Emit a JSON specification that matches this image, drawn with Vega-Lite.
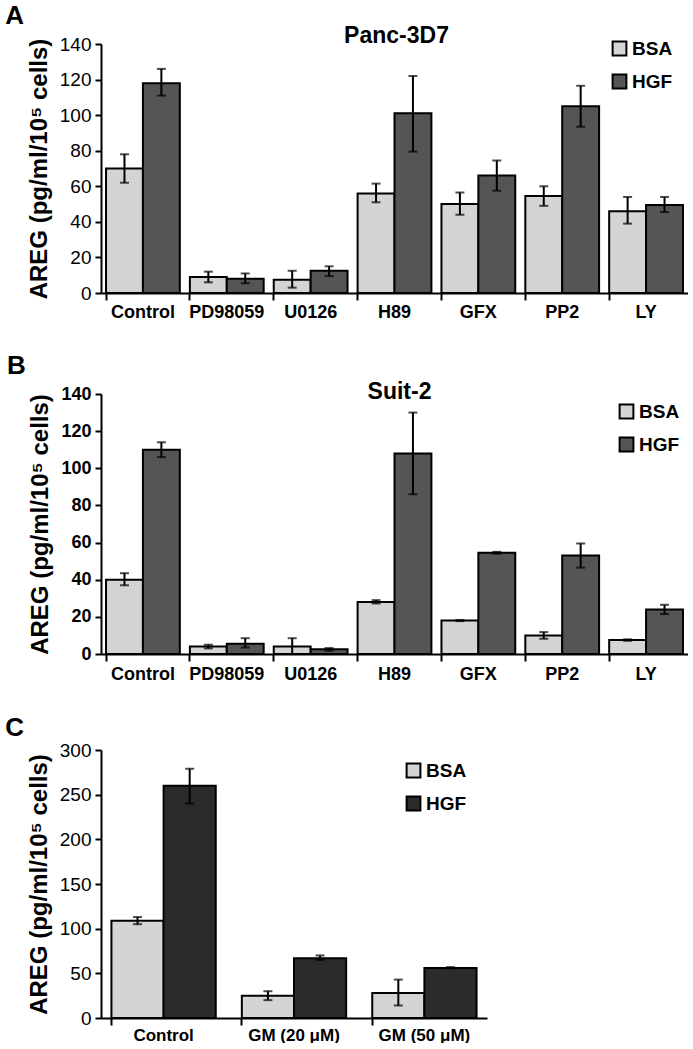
{
  "$schema": "https://vega.github.io/schema/vega-lite/v6.json",
  "padding": {"left": 5, "top": 3, "right": 0, "bottom": 0},
  "background": "white",
  "config": {
    "view": {"stroke": null},
    "font": "Liberation Sans",
    "axis": {"domainColor": "black", "tickColor": "black", "labelColor": "black", "titleColor": "black", "grid": false, "domainWidth": 2, "tickWidth": 2, "labelOverlap": false},
    "legend": {"title": null, "symbolType": "square", "symbolSize": 190, "symbolStrokeColor": "black", "symbolStrokeWidth": 2, "labelFont": "Liberation Sans", "labelFontWeight": "bold", "labelFontSize": 19, "labelColor": "black", "rowPadding": 10, "labelOffset": 3, "orient": "none"}
  },
  "datasets": {
    "A": [
      {"treatment": "Control", "group": "BSA", "value": 70, "lo": 62, "hi": 78},
      {"treatment": "Control", "group": "HGF", "value": 118, "lo": 111, "hi": 126},
      {"treatment": "PD98059", "group": "BSA", "value": 9, "lo": 6, "hi": 12},
      {"treatment": "PD98059", "group": "HGF", "value": 8, "lo": 5.5, "hi": 11},
      {"treatment": "U0126", "group": "BSA", "value": 7.5, "lo": 3, "hi": 12.5},
      {"treatment": "U0126", "group": "HGF", "value": 12.5, "lo": 9.5, "hi": 15},
      {"treatment": "H89", "group": "BSA", "value": 56, "lo": 51, "hi": 61.5},
      {"treatment": "H89", "group": "HGF", "value": 101, "lo": 79.5, "hi": 122},
      {"treatment": "GFX", "group": "BSA", "value": 50, "lo": 44, "hi": 56.5},
      {"treatment": "GFX", "group": "HGF", "value": 66, "lo": 57.5, "hi": 74.5},
      {"treatment": "PP2", "group": "BSA", "value": 54.5, "lo": 49, "hi": 60},
      {"treatment": "PP2", "group": "HGF", "value": 105, "lo": 93.5, "hi": 116.5},
      {"treatment": "LY", "group": "BSA", "value": 46, "lo": 39, "hi": 54},
      {"treatment": "LY", "group": "HGF", "value": 49.5, "lo": 45.5, "hi": 54}
    ],
    "B": [
      {"treatment": "Control", "group": "BSA", "value": 40, "lo": 37, "hi": 43.5},
      {"treatment": "Control", "group": "HGF", "value": 110, "lo": 106, "hi": 114},
      {"treatment": "PD98059", "group": "BSA", "value": 4, "lo": 3, "hi": 5},
      {"treatment": "PD98059", "group": "HGF", "value": 5.5, "lo": 3.5, "hi": 8.5},
      {"treatment": "U0126", "group": "BSA", "value": 4, "lo": 0, "hi": 8.5},
      {"treatment": "U0126", "group": "HGF", "value": 2.5, "lo": 1.8, "hi": 3.2},
      {"treatment": "H89", "group": "BSA", "value": 28, "lo": 27.2, "hi": 29},
      {"treatment": "H89", "group": "HGF", "value": 108, "lo": 86, "hi": 130},
      {"treatment": "GFX", "group": "BSA", "value": 18, "lo": 17.7, "hi": 18.3},
      {"treatment": "GFX", "group": "HGF", "value": 54.5, "lo": 54, "hi": 55},
      {"treatment": "PP2", "group": "BSA", "value": 10, "lo": 8.2, "hi": 11.8},
      {"treatment": "PP2", "group": "HGF", "value": 53, "lo": 46.5, "hi": 59.5},
      {"treatment": "LY", "group": "BSA", "value": 7.5, "lo": 7.1, "hi": 7.9},
      {"treatment": "LY", "group": "HGF", "value": 24, "lo": 21.5, "hi": 26.5}
    ],
    "C": [
      {"treatment": "Control", "group": "BSA", "value": 109, "lo": 105, "hi": 113},
      {"treatment": "Control", "group": "HGF", "value": 260, "lo": 240, "hi": 279},
      {"treatment": "GM (20 μM)", "group": "BSA", "value": 25, "lo": 20, "hi": 30},
      {"treatment": "GM (20 μM)", "group": "HGF", "value": 67, "lo": 65, "hi": 70},
      {"treatment": "GM (50 μM)", "group": "BSA", "value": 28, "lo": 14, "hi": 43},
      {"treatment": "GM (50 μM)", "group": "HGF", "value": 56, "lo": 55.5, "hi": 57}
    ]
  },
  "resolve": {"scale": {"fill": "independent", "x": "independent", "xOffset": "independent", "y": "independent"}, "legend": {"fill": "independent"}},
  "spacing": 32,
  "vconcat": [
    {
      "title": {"text": "A", "anchor": "start", "frame": "bounds", "fontSize": 26, "fontWeight": "bold", "dx": -22, "offset": -4, "color": "black"},
      "resolve": {"scale": {"fill": "independent"}, "legend": {"fill": "independent"}},
      "vconcat": [
        {
          "title": {"text": "Panc-3D7", "fontSize": 23, "fontWeight": "bold", "offset": -13, "color": "black", "dx": 2},
          "width": 587,
          "height": 249,
          "data": {"name": "A"},
          "encoding": {
            "x": {"field": "treatment", "type": "nominal", "sort": null, "title": null,
                  "scale": {"paddingInner": 0.12, "paddingOuter": 0.06},
                  "axis": {"labelAngle": 0, "labelFontSize": 18, "labelFontWeight": "bold", "bandPosition": 0, "tickSize": 7, "labelPadding": 3}},
            "xOffset": {"field": "group", "type": "nominal", "sort": ["BSA", "HGF"]}
          },
          "layer": [
            {
              "mark": {"type": "bar", "stroke": "black", "strokeWidth": 2},
              "encoding": {
                "y": {"field": "value", "type": "quantitative", "title": "AREG (pg/ml/10⁵ cells)",
                      "scale": {"domain": [0, 140], "nice": false},
                      "axis": {"values": [0, 20, 40, 60, 80, 100, 120, 140], "labelOverlap": false, "labelFontSize": 19, "titleFontSize": 24, "titleFontWeight": "bold", "tickSize": 6, "labelPadding": 4, "titlePadding": 8}},
                "fill": {"field": "group", "type": "nominal", "scale": {"domain": ["BSA", "HGF"], "range": ["#d4d4d4", "#555555"]},
                         "legend": {"legendX": 509, "legendY": -5}}
              }
            },
            {
              "mark": {"type": "rule", "color": "black", "strokeWidth": 2},
              "encoding": {"y": {"field": "lo", "type": "quantitative", "title": "AREG (pg/ml/10⁵ cells)", "scale": {"domain": [0, 140], "nice": false},
                      "axis": {"values": [0, 20, 40, 60, 80, 100, 120, 140], "labelOverlap": false, "labelFontSize": 19, "titleFontSize": 24, "titleFontWeight": "bold", "tickSize": 6, "labelPadding": 4, "titlePadding": 8}}, "y2": {"field": "hi"}}
            },
            {
              "mark": {"type": "tick", "color": "black", "thickness": 2, "size": 9, "orient": "horizontal"},
              "encoding": {"y": {"field": "lo", "type": "quantitative", "title": "AREG (pg/ml/10⁵ cells)", "scale": {"domain": [0, 140], "nice": false},
                      "axis": {"values": [0, 20, 40, 60, 80, 100, 120, 140], "labelOverlap": false, "labelFontSize": 19, "titleFontSize": 24, "titleFontWeight": "bold", "tickSize": 6, "labelPadding": 4, "titlePadding": 8}}}
            },
            {
              "mark": {"type": "tick", "color": "black", "thickness": 2, "size": 9, "orient": "horizontal"},
              "encoding": {"y": {"field": "hi", "type": "quantitative", "title": "AREG (pg/ml/10⁵ cells)", "scale": {"domain": [0, 140], "nice": false},
                      "axis": {"values": [0, 20, 40, 60, 80, 100, 120, 140], "labelOverlap": false, "labelFontSize": 19, "titleFontSize": 24, "titleFontWeight": "bold", "tickSize": 6, "labelPadding": 4, "titlePadding": 8}}}
            }
          ]
        }
      ]
    },
    {
      "title": {"text": "B", "anchor": "start", "frame": "bounds", "fontSize": 26, "fontWeight": "bold", "dx": -22, "offset": 2, "color": "black"},
      "resolve": {"scale": {"fill": "independent"}, "legend": {"fill": "independent"}},
      "vconcat": [
        {
          "title": {"text": "Suit-2", "fontSize": 23, "fontWeight": "bold", "offset": -19, "color": "black", "dx": 5},
          "width": 587,
          "height": 260,
          "data": {"name": "B"},
          "encoding": {
            "x": {"field": "treatment", "type": "nominal", "sort": null, "title": null,
                  "scale": {"paddingInner": 0.12, "paddingOuter": 0.06},
                  "axis": {"labelAngle": 0, "labelFontSize": 18, "labelFontWeight": "bold", "bandPosition": 0, "tickSize": 7, "labelPadding": 4}},
            "xOffset": {"field": "group", "type": "nominal", "sort": ["BSA", "HGF"]}
          },
          "layer": [
            {
              "mark": {"type": "bar", "stroke": "black", "strokeWidth": 2},
              "encoding": {
                "y": {"field": "value", "type": "quantitative", "title": "AREG (pg/ml/10⁵ cells)",
                      "scale": {"domain": [0, 140], "nice": false},
                      "axis": {"values": [0, 20, 40, 60, 80, 100, 120, 140], "labelOverlap": false, "labelFontSize": 18, "labelFontWeight": "bold", "titleFontSize": 24, "titleFontWeight": "bold", "tickSize": 6, "labelPadding": 4, "titlePadding": 8}},
                "fill": {"field": "group", "type": "nominal", "scale": {"domain": ["BSA", "HGF"], "range": ["#d4d4d4", "#555555"]},
                         "legend": {"legendX": 516, "legendY": 8}}
              }
            },
            {
              "mark": {"type": "rule", "color": "black", "strokeWidth": 2},
              "encoding": {"y": {"field": "lo", "type": "quantitative", "title": "AREG (pg/ml/10⁵ cells)", "scale": {"domain": [0, 140], "nice": false},
                      "axis": {"values": [0, 20, 40, 60, 80, 100, 120, 140], "labelOverlap": false, "labelFontSize": 18, "labelFontWeight": "bold", "titleFontSize": 24, "titleFontWeight": "bold", "tickSize": 6, "labelPadding": 4, "titlePadding": 8}}, "y2": {"field": "hi"}}
            },
            {
              "mark": {"type": "tick", "color": "black", "thickness": 2, "size": 9, "orient": "horizontal"},
              "encoding": {"y": {"field": "lo", "type": "quantitative", "title": "AREG (pg/ml/10⁵ cells)", "scale": {"domain": [0, 140], "nice": false},
                      "axis": {"values": [0, 20, 40, 60, 80, 100, 120, 140], "labelOverlap": false, "labelFontSize": 18, "labelFontWeight": "bold", "titleFontSize": 24, "titleFontWeight": "bold", "tickSize": 6, "labelPadding": 4, "titlePadding": 8}}}
            },
            {
              "mark": {"type": "tick", "color": "black", "thickness": 2, "size": 9, "orient": "horizontal"},
              "encoding": {"y": {"field": "hi", "type": "quantitative", "title": "AREG (pg/ml/10⁵ cells)", "scale": {"domain": [0, 140], "nice": false},
                      "axis": {"values": [0, 20, 40, 60, 80, 100, 120, 140], "labelOverlap": false, "labelFontSize": 18, "labelFontWeight": "bold", "titleFontSize": 24, "titleFontWeight": "bold", "tickSize": 6, "labelPadding": 4, "titlePadding": 8}}}
            }
          ]
        }
      ]
    },
    {
      "title": {"text": "C", "anchor": "start", "frame": "bounds", "fontSize": 26, "fontWeight": "bold", "dx": -22, "offset": 0, "color": "black"},
      "width": 386,
      "height": 268,
      "data": {"name": "C"},
      "encoding": {
        "x": {"field": "treatment", "type": "nominal", "sort": null, "title": null,
              "scale": {"paddingInner": 0.2, "paddingOuter": 0.08},
              "axis": {"labelAngle": 0, "labelFontSize": 17, "labelFontWeight": "bold", "bandPosition": 0, "tickSize": 7, "labelPadding": 2}},
        "xOffset": {"field": "group", "type": "nominal", "sort": ["BSA", "HGF"]}
      },
      "layer": [
        {
          "mark": {"type": "bar", "stroke": "black", "strokeWidth": 2},
          "encoding": {
            "y": {"field": "value", "type": "quantitative", "title": "AREG (pg/ml/10⁵ cells)",
                  "scale": {"domain": [0, 300], "nice": false},
                  "axis": {"values": [0, 50, 100, 150, 200, 250, 300], "labelOverlap": false, "labelFontSize": 19, "titleFontSize": 24, "titleFontWeight": "bold", "tickSize": 6, "labelPadding": 4, "titlePadding": 8}},
            "fill": {"field": "group", "type": "nominal", "scale": {"domain": ["BSA", "HGF"], "range": ["#d4d4d4", "#2b2b2b"]},
                     "legend": {"legendX": 303, "legendY": 11}}
          }
        },
        {
          "mark": {"type": "rule", "color": "black", "strokeWidth": 2},
          "encoding": {"y": {"field": "lo", "type": "quantitative", "title": "AREG (pg/ml/10⁵ cells)", "scale": {"domain": [0, 300], "nice": false},
                  "axis": {"values": [0, 50, 100, 150, 200, 250, 300], "labelOverlap": false, "labelFontSize": 19, "titleFontSize": 24, "titleFontWeight": "bold", "tickSize": 6, "labelPadding": 4, "titlePadding": 8}}, "y2": {"field": "hi"}}
        },
        {
          "mark": {"type": "tick", "color": "black", "thickness": 2, "size": 9, "orient": "horizontal"},
          "encoding": {"y": {"field": "lo", "type": "quantitative", "title": "AREG (pg/ml/10⁵ cells)", "scale": {"domain": [0, 300], "nice": false},
                  "axis": {"values": [0, 50, 100, 150, 200, 250, 300], "labelOverlap": false, "labelFontSize": 19, "titleFontSize": 24, "titleFontWeight": "bold", "tickSize": 6, "labelPadding": 4, "titlePadding": 8}}}
        },
        {
          "mark": {"type": "tick", "color": "black", "thickness": 2, "size": 9, "orient": "horizontal"},
          "encoding": {"y": {"field": "hi", "type": "quantitative", "title": "AREG (pg/ml/10⁵ cells)", "scale": {"domain": [0, 300], "nice": false},
                  "axis": {"values": [0, 50, 100, 150, 200, 250, 300], "labelOverlap": false, "labelFontSize": 19, "titleFontSize": 24, "titleFontWeight": "bold", "tickSize": 6, "labelPadding": 4, "titlePadding": 8}}}
        }
      ]
    }
  ]
}
